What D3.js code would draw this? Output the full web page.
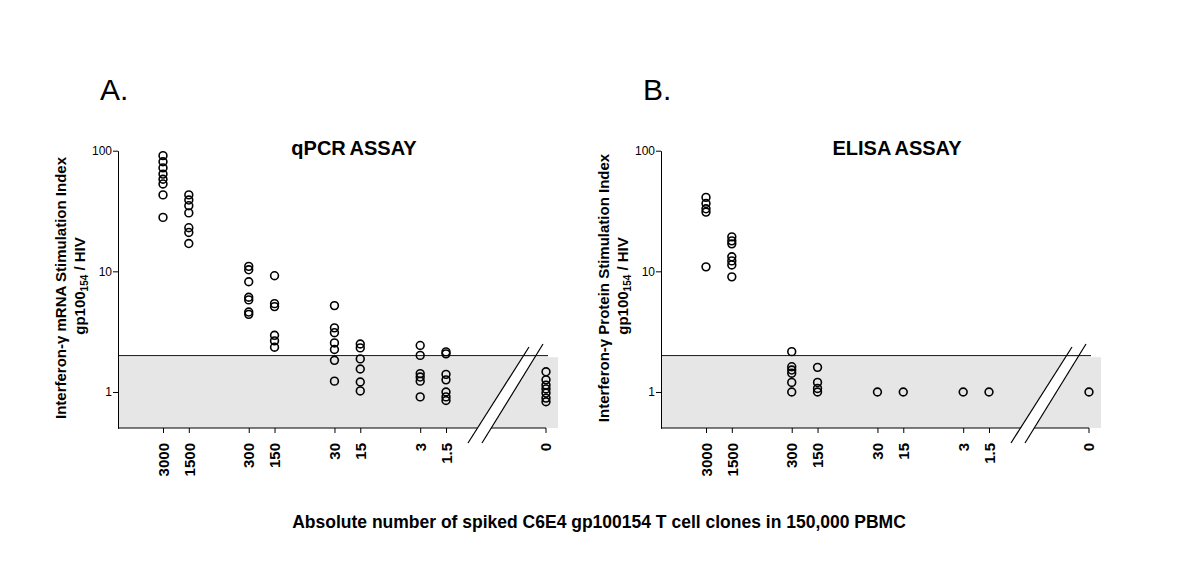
<!DOCTYPE html>
<html>
<head>
<meta charset="utf-8">
<script src="https://cdn.jsdelivr.net/npm/d3@7"></script>
<style>
  html, body { margin: 0; padding: 0; background: #fff; }
  svg text { font-family: "Liberation Sans", Arial, Helvetica, sans-serif; fill: #000; }
</style>
</head>
<body>
<script>
// ---------------- DATA ----------------
const doses = [3000, 1500, 300, 150, 30, 15, 3, 1.5, 0];
const doseLabels = ["3000", "1500", "300", "150", "30", "15", "3", "1.5", "0"];
const yTickValues = [1, 10, 100];
const threshold = 2;

// qPCR assay: stimulation index per dose (same order as doses)
const qpcr3000 = [91, 81, 72, 64, 58, 53, 43, 28];
const qpcr1500 = [43, 39, 35, 30.5, 23, 21, 17];
const qpcr300  = [11.0, 10.3, 8.2, 6.1, 5.8, 4.6, 4.4];
const qpcr150  = [9.2, 5.4, 5.1, 2.95, 2.65, 2.35];
const qpcr30   = [5.2, 3.4, 3.1, 2.55, 2.25, 1.83, 1.23];
const qpcr15   = [2.5, 2.32, 1.88, 1.55, 1.21, 1.02];
const qpcr3    = [2.43, 2.01, 1.42, 1.33, 1.23, 0.91];
const qpcr1_5  = [2.15, 2.07, 1.40, 1.26, 1.0, 0.91, 0.85];
const qpcr0    = [1.47, 1.26, 1.14, 1.06, 0.98, 0.89, 0.83];

// ELISA assay
const elisa3000 = [41, 36.5, 33, 31, 10.9];
const elisa1500 = [19.3, 17.9, 16.9, 13.2, 12.2, 11.3, 9.0];
const elisa300  = [2.16, 1.62, 1.52, 1.43, 1.2, 1.0];
const elisa150  = [1.6, 1.2, 1.07, 1.0];
const elisa30   = [1.0];
const elisa15   = [1.0];
const elisa3    = [1.0];
const elisa1_5  = [1.0];
const elisa0    = [1.0];

const qpcrSeries  = [qpcr3000, qpcr1500, qpcr300, qpcr150, qpcr30, qpcr15, qpcr3, qpcr1_5, qpcr0];
const elisaSeries = [elisa3000, elisa1500, elisa300, elisa150, elisa30, elisa15, elisa3, elisa1_5, elisa0];

const panels = [
  { letter: "A.", title: "qPCR ASSAY",  yTitle: "Interferon-\u03b3 mRNA Stimulation Index",    series: qpcrSeries },
  { letter: "B.", title: "ELISA ASSAY", yTitle: "Interferon-\u03b3 Protein Stimulation Index", series: elisaSeries }
];
const xAxisTitle = "Absolute number of spiked C6E4 gp100154 T cell clones in 150,000 PBMC";

// ---------------- LAYOUT ----------------
const W = 1200, H = 571;
const panelX = [118, 661];
const yBottom = 428.3, yTop = 150.7;

const svg = d3.select("body").append("svg")
  .attr("width", W).attr("height", H)
  .attr("viewBox", `0 0 ${W} ${H}`);

const y = d3.scaleLog().domain([0.5, 100]).range([yBottom, yTop]);
const xLog = d3.scaleLog().domain([3000, 1.5]).range([45, 328]);
const zeroX = 428;
const xpos = d => d === 0 ? zeroX : xLog(d);

panels.forEach((p, pi) => {
  const g = svg.append("g").attr("transform", `translate(${panelX[pi]},0)`);
  const base = 428;

  // shaded region below threshold
  g.append("rect")
    .attr("x", 1).attr("y", y(threshold) + 1.5)
    .attr("width", zeroX + 12 - 1)
    .attr("height", base - (y(threshold) + 1.5))
    .attr("fill", "#e6e6e6");

  // bottom axis line
  g.append("line")
    .attr("x1", 0).attr("x2", zeroX).attr("y1", base).attr("y2", base)
    .attr("stroke", "#000").attr("stroke-width", 1);

  // break: white gap between two parallel diagonal lines
  const b1 = [[350, 443], [411, 347]];
  const b2 = [[364, 443], [425, 344]];
  g.append("polygon")
    .attr("points", [b1[0], b1[1], b2[1], b2[0]].map(d => d.join(",")).join(" "))
    .attr("fill", "#fff");

  // threshold line
  g.append("line")
    .attr("x1", 0).attr("x2", zeroX + 2)
    .attr("y1", y(threshold)).attr("y2", y(threshold))
    .attr("stroke", "#000").attr("stroke-width", 1);

  [b1, b2].forEach(b => {
    g.append("line")
      .attr("x1", b[0][0]).attr("y1", b[0][1])
      .attr("x2", b[1][0]).attr("y2", b[1][1])
      .attr("stroke", "#000").attr("stroke-width", 1.2);
  });

  // y axis
  const ya = g.append("g")
    .call(d3.axisLeft(y).tickValues(yTickValues).tickFormat(d3.format("d")).tickSize(5).tickSizeOuter(0));
  ya.select(".domain").attr("stroke", "#000");
  ya.selectAll(".tick line").attr("stroke", "#000");
  ya.selectAll(".tick text")
    .attr("font-size", 12).attr("font-family", null).attr("fill", "#000").attr("x", -6);

  // x axis (log part)
  const xa = g.append("g").attr("transform", `translate(0,${base})`)
    .call(d3.axisBottom(xLog).tickValues(doses.filter(d => d !== 0))
      .tickFormat((d, i) => doseLabels[i]).tickSize(5).tickSizeOuter(0));
  xa.select(".domain").remove();
  // zero tick
  const zt = xa.append("g").attr("class", "tick").attr("transform", `translate(${zeroX},0)`);
  zt.append("line").attr("y2", 5);
  zt.append("text").text(doseLabels[doseLabels.length - 1]);
  xa.selectAll(".tick line").attr("stroke", "#000");
  xa.selectAll(".tick text")
    .attr("transform", "rotate(-90)")
    .attr("text-anchor", "end")
    .attr("x", -15).attr("y", 0).attr("dy", "0.35em")
    .attr("font-size", 15).attr("font-weight", "bold")
    .attr("font-family", null).attr("fill", "#000");

  // points
  const pts = [];
  p.series.forEach((vals, i) => vals.forEach(v => pts.push({ dose: doses[i], v })));
  g.append("g").selectAll("circle").data(pts).join("circle")
    .attr("cx", d => xpos(d.dose))
    .attr("cy", d => y(d.v))
    .attr("r", 3.9)
    .attr("fill", "none")
    .attr("stroke", "#000")
    .attr("stroke-width", 1.6);

  // panel letter
  g.append("text").attr("x", -18).attr("y", 100)
    .attr("font-size", 30).text(p.letter);

  // title
  g.append("text").attr("x", 236).attr("y", 155)
    .attr("text-anchor", "middle").attr("font-size", 20).attr("font-weight", "bold")
    .attr("word-spacing", -1)
    .text(p.title);

  // y title
  const yt = g.append("text")
    .attr("transform", `translate(-52,288) rotate(-90)`)
    .attr("text-anchor", "middle").attr("font-size", 15).attr("font-weight", "bold");
  yt.append("tspan").attr("x", 0).attr("y", 0).text(p.yTitle);
  const yt2 = g.append("text")
    .attr("transform", `translate(-33,286) rotate(-90)`)
    .attr("text-anchor", "middle").attr("font-size", 15).attr("font-weight", "bold");
  yt2.append("tspan").text("gp100");
  yt2.append("tspan").attr("font-size", 10).attr("dy", 3).text("154");
  yt2.append("tspan").attr("dy", -3).text(" / HIV");
});

// common x title
svg.append("text").attr("x", 599).attr("y", 528)
  .attr("text-anchor", "middle").attr("font-size", 17.5).attr("font-weight", "bold")
  .text(xAxisTitle);
</script>
</body>
</html>
